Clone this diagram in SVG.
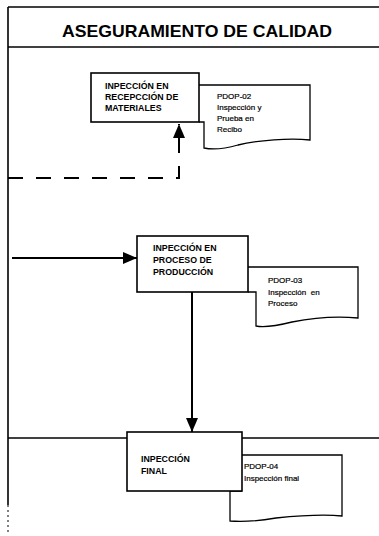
<svg xmlns="http://www.w3.org/2000/svg" width="379" height="536" viewBox="0 0 379 536">
<style>
  .frame{stroke:#000;stroke-width:1.6;fill:none}
  .box{fill:#fff;stroke:#000;stroke-width:1.6}
  .doc{fill:#fff;stroke:#000;stroke-width:1.3}
  .bt{font-family:"Liberation Sans",Arial,sans-serif;font-weight:bold;font-size:8.8px;fill:#000}
  .dt{font-family:"Liberation Sans",Arial,sans-serif;font-size:8px;fill:#000;stroke:#000;stroke-width:0.2}
  .title{font-family:"Liberation Sans",Arial,sans-serif;font-weight:bold;font-size:17px;fill:#000}
  .conn{stroke:#000;stroke-width:2;fill:none}
</style>
<defs>
  <marker id="ah" viewBox="0 0 14 12" refX="14" refY="6" markerWidth="15" markerHeight="12" markerUnits="userSpaceOnUse" orient="auto">
    <path d="M0,0 L14,6 L0,12 Z" fill="#000"/>
  </marker>
</defs>
<rect width="379" height="536" fill="#fff"/>
<g id="frame">
  <line class="frame" x1="8" y1="7" x2="379" y2="7"/>
  <line class="frame" x1="8" y1="47" x2="379" y2="47"/>
  <line class="frame" x1="8" y1="7" x2="8" y2="505"/>
  <line x1="8" y1="505" x2="8" y2="532" stroke="#000" stroke-width="1" stroke-dasharray="2 3"/>
  <line class="frame" x1="8" y1="438" x2="379" y2="438"/>
  <text class="title" x="197" y="37" text-anchor="middle" textLength="270" lengthAdjust="spacingAndGlyphs">ASEGURAMIENTO DE CALIDAD</text>
</g>
<g id="connectors">
  <path class="conn" d="M8,178 H179 V124" stroke-width="2.5" stroke-dasharray="15 13" marker-end="url(#ah)"/>
  <path class="conn" d="M12,258 H137" marker-end="url(#ah)"/>
  <path class="conn" d="M192,292 V432" marker-end="url(#ah)"/>
</g>
<g id="doc1">
  <path class="doc" d="M199,85 H310 V140 C290,138 258,140 238,145 C224,149 213,150 204,148 V122 H199"/>
  <text class="dt" x="217" y="99">PDOP-02</text>
  <text class="dt" x="217" y="110">Inspección y</text>
  <text class="dt" x="217" y="121">Prueba en</text>
  <text class="dt" x="217" y="132">Recibo</text>
</g>
<g id="node1">
  <rect class="box" x="91" y="73" width="108" height="49"/>
  <text class="bt" x="105" y="89">INPECCIÓN EN</text>
  <text class="bt" x="105" y="100">RECEPCCIÓN DE</text>
  <text class="bt" x="105" y="111">MATERIALES</text>
</g>
<g id="doc2">
  <path class="doc" d="M248,267 H358 V318 C338,316 312,318 292,322 C276,326 265,328 256,326 V292 H248"/>
  <text class="dt" x="268" y="283">PDOP-03</text>
  <text class="dt" x="268" y="295" xml:space="preserve">Inspección  en</text>
  <text class="dt" x="268" y="306">Proceso</text>
</g>
<g id="node2">
  <rect class="box" x="137" y="236" width="111" height="56"/>
  <text class="bt" x="153" y="251">INPECCIÓN EN</text>
  <text class="bt" x="153" y="263">PROCESO DE</text>
  <text class="bt" x="153" y="275">PRODUCCIÓN</text>
</g>
<g id="doc3">
  <path class="doc" d="M242,455 H342 V516 C322,514 296,516 276,518 C258,521 240,522 230,521 V491 H242"/>
  <text class="dt" x="244" y="469">PDOP-04</text>
  <text class="dt" x="244" y="481">Inspección final</text>
</g>
<g id="node3">
  <rect class="box" x="127" y="432" width="115" height="59"/>
  <text class="bt" x="141" y="462">INPECCIÓN</text>
  <text class="bt" x="141" y="474">FINAL</text>
</g>
</svg>
